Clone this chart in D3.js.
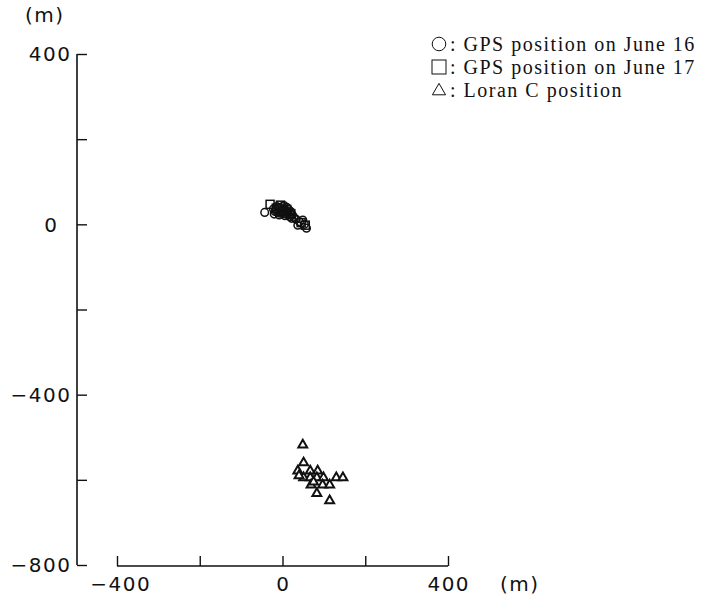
<!DOCTYPE html>
<html>
<head>
<meta charset="utf-8">
<script src="https://cdn.jsdelivr.net/npm/d3@7"></script>
<style>
  html, body { margin: 0; padding: 0; background: #fff; }
  svg { display: block; }
  .tick-label { font-family: "DejaVu Sans", sans-serif; font-size: 20px; fill: #111; letter-spacing: 1.5px; }
  .legend { font-family: "Liberation Serif", "Times New Roman", serif; font-size: 20px; fill: #111; letter-spacing: 1.5px; }
</style>
</head>
<body>
<script>
// ---- Data (metres, relative to reference position) ----
const xTicks = [-400, -200, 0, 200, 400];
const yTicks = [400, 200, 0, -200, -400, -600, -800];
const xTickLabels = ["−400", "", "0", "", "400"];
const yTickLabels = ["400", "", "0", "", "−400", "", "−800"];
const unitLabel = "(m)";

// GPS position on June 16 (circles)
const gpsJune16X = [-43, -22, -18, -15, -12, -10, -8, -5, -3, 0, 2, 5, 6, 8, 10, 12, 15, 18, 20, 24, -20, -6, 4, 14, 22, 0, -14, 9, 17, 33, 37, 41, 49, 53, 58, 28];
const gpsJune16Y = [28, 36, 30, 35, 28, 40, 22, 38, 30, 42, 25, 36, 20, 32, 40, 28, 22, 18, 30, 22, 24, 26, 44, 36, 14, 34, 42, 24, 28, 12, -2, 6, 10, 0, -9, 16];

// GPS position on June 17 (squares)
const gpsJune17X = [-30, -15, -5, 0, 10, 20, 45, 55];
const gpsJune17Y = [47, 38, 45, 30, 35, 25, 4, -2];

// Loran C position (triangles)
const loranX = [49, 51, 37, 67, 85, 51, 67, 83, 99, 130, 146, 69, 97, 114, 83, 114, 40, 75];
const loranY = [-518, -560, -579, -579, -579, -595, -595, -595, -595, -595, -595, -612, -612, -612, -632, -649, -590, -605];

const legendLabels = ["GPS position on June 16", "GPS position on June 17", "Loran C position"];
const legendShapes = ["circle", "square", "triangle"];

// ---- Chart ----
const W = 726, H = 599;
const svg = d3.select("body").append("svg").attr("width", W).attr("height", H);

const x = d3.scaleLinear().domain([-400, 400]).range([117, 448]);
const y = d3.scaleLinear().domain([-800, 400]).range([565, 54]);

const axisX0 = 77;   // y-axis line position
const axisY0 = 566;  // x-axis line position
const tickLen = 10;
const ink = "#111";
const ls = 1.5;      // tick label letter spacing

// Y axis
const gY = svg.append("g").attr("transform", `translate(${axisX0},0)`);
gY.call(d3.axisRight(y).tickValues(yTicks).tickSize(tickLen).tickFormat(""));
gY.select(".domain").attr("d", `M0,${y(400)}V${y(-800)}`).attr("stroke", ink).attr("stroke-width", 1.6);
gY.selectAll(".tick line").attr("stroke", ink).attr("stroke-width", 1.4);
yTicks.forEach((v, i) => {
  if (!yTickLabels[i]) return;
  const right = yTickLabels[i] === "0" ? 57 : 70;
  svg.append("text").attr("class", "tick-label")
    .attr("x", right + ls).attr("y", y(v)).attr("dy", "0.36em")
    .attr("text-anchor", "end").text(yTickLabels[i]);
});
svg.append("text").attr("class", "tick-label").attr("x", 25).attr("y", 22).text(unitLabel);

// X axis
const gX = svg.append("g").attr("transform", `translate(0,${axisY0})`);
gX.call(d3.axisTop(x).tickValues(xTicks).tickSize(tickLen).tickFormat(""));
gX.select(".domain").attr("d", `M${x(-400)},0H${x(400)}`).attr("stroke", ink).attr("stroke-width", 1.6);
gX.selectAll(".tick line").attr("stroke", ink).attr("stroke-width", 1.4);
xTicks.forEach((v, i) => {
  if (!xTickLabels[i]) return;
  svg.append("text").attr("class", "tick-label")
    .attr("x", x(v) + ls / 2 + (v < 0 ? 3 : 0)).attr("y", 584).attr("dy", "0.36em")
    .attr("text-anchor", "middle").text(xTickLabels[i]);
});
svg.append("text").attr("class", "tick-label").attr("x", 500).attr("y", 584).attr("dy", "0.36em").text(unitLabel);

// Markers
const mStroke = 1.5;
const plot = svg.append("g");

const sqData = gpsJune17X.map((v, i) => ({ x: v, y: gpsJune17Y[i] }));
plot.selectAll("rect.gps17").data(sqData).join("rect").attr("class", "gps17")
  .attr("x", d => x(d.x) - 4).attr("y", d => y(d.y) - 4)
  .attr("width", 8).attr("height", 8)
  .attr("fill", "none").attr("stroke", ink).attr("stroke-width", mStroke);

const cData = gpsJune16X.map((v, i) => ({ x: v, y: gpsJune16Y[i] }));
plot.selectAll("circle.gps16").data(cData).join("circle").attr("class", "gps16")
  .attr("cx", d => x(d.x)).attr("cy", d => y(d.y)).attr("r", 3.8)
  .attr("fill", "none").attr("stroke", ink).attr("stroke-width", mStroke);

const triSym = d3.symbol().type(d3.symbolTriangle).size(34);
const tData = loranX.map((v, i) => ({ x: v, y: loranY[i] }));
plot.selectAll("path.loran").data(tData).join("path").attr("class", "loran")
  .attr("transform", d => `translate(${x(d.x)},${y(d.y)})`)
  .attr("d", triSym)
  .attr("fill", "#fff").attr("stroke", ink).attr("stroke-width", 2);

// Legend
const legY = [44, 67, 90];
const leg = svg.append("g");
legendLabels.forEach((lab, i) => {
  const cy = legY[i], cx = 439;
  if (legendShapes[i] === "circle") {
    leg.append("circle").attr("cx", cx).attr("cy", cy).attr("r", 6.8)
      .attr("fill", "none").attr("stroke", ink).attr("stroke-width", 1);
  } else if (legendShapes[i] === "square") {
    leg.append("rect").attr("x", cx - 7).attr("y", cy - 7).attr("width", 14).attr("height", 14)
      .attr("fill", "none").attr("stroke", ink).attr("stroke-width", 1);
  } else {
    leg.append("path").attr("transform", `translate(${cx},${cy + 1})`)
      .attr("d", d3.symbol().type(d3.symbolTriangle).size(75))
      .attr("fill", "none").attr("stroke", ink).attr("stroke-width", 1);
  }
  leg.append("text").attr("class", "legend").attr("x", 450).attr("y", cy).attr("dy", "0.35em")
    .text(": " + lab);
});
</script>
</body>
</html>
